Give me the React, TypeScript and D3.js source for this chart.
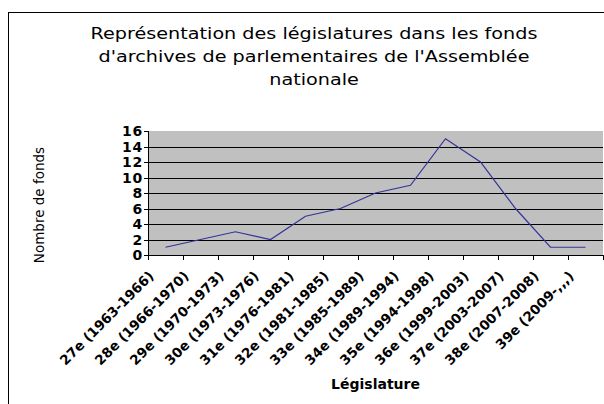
import React from 'react';
import * as d3 from 'd3';

const legislatures = [
  '27e (1963-1966)', '28e (1966-1970)', '29e (1970-1973)', '30e (1973-1976)',
  '31e (1976-1981)', '32e (1981-1985)', '33e (1985-1989)', '34e (1989-1994)',
  '35e (1994-1998)', '36e (1999-2003)', '37e (2003-2007)', '38e (2007-2008)',
  '39e (2009-,,,)',
];
const fonds = [1, 2, 3, 2, 5, 6, 8, 9, 15, 12, 6, 1, 1];
const yTicks = [0, 2, 4, 6, 8, 10, 12, 14, 16];
const titleLines = [
  'Représentation des législatures dans les fonds',
  "d'archives de parlementaires de l'Assemblée",
  'nationale',
];

const W = 604;
const H = 404;
const plot = { left: 148, right: 603, top: 131, bottom: 255 };

export default function App() {
  const x = d3.scaleBand<string>().domain(legislatures).range([plot.left, plot.right]);
  const y = d3.scaleLinear().domain([0, 16]).range([plot.bottom, plot.top]);
  const line = d3.line<number>()
    .x((_, i) => (x(legislatures[i]) as number) + x.bandwidth() / 2)
    .y((d) => y(d));
  const font = 'DejaVu Sans, Verdana, sans-serif';

  return (
    <svg width={W} height={H} style={{ position: 'absolute', left: 0, top: 0 }} fontFamily={font}>
      <rect x={0} y={0} width={W} height={H} fill="#fff" />
      {/* outer chart frame */}
      <rect x={8.5} y={12.5} width={W + 10} height={H + 10} fill="none" stroke="#000" />

      {/* title, stretched a bit wider like the original rendering */}
      <g transform="translate(314,0) scale(1.2,1)">
        {titleLines.map((t, i) => (
          <text key={i} x={0} y={39 + i * 23} textAnchor="middle" fontSize={16}>{t}</text>
        ))}
      </g>

      {/* plot area */}
      <rect x={plot.left} y={plot.top} width={plot.right - plot.left} height={plot.bottom - plot.top} fill="#c0c0c0" />
      {yTicks.filter((t) => t > 0 && t < 16).map((t) => (
        <line key={t} x1={plot.left} x2={plot.right} y1={Math.round(y(t)) + 0.5} y2={Math.round(y(t)) + 0.5} stroke="#000" />
      ))}

      {/* y axis */}
      <line x1={plot.left + 0.5} x2={plot.left + 0.5} y1={plot.top} y2={plot.bottom} stroke="#000" />
      {yTicks.map((t) => (
        <g key={t}>
          <line x1={plot.left - 4} x2={plot.left} y1={Math.round(y(t)) + 0.5} y2={Math.round(y(t)) + 0.5} stroke="#000" />
          <text x={plot.left - 5} y={y(t)} dy="0.36em" textAnchor="end" fontSize={14} fontWeight="bold" letterSpacing={0.8}>{t}</text>
        </g>
      ))}

      {/* x axis */}
      <line x1={plot.left} x2={plot.right} y1={plot.bottom + 0.5} y2={plot.bottom + 0.5} stroke="#000" />
      {legislatures.map((c) => (x(c) as number)).concat([plot.right]).map((px, i) => (
        <line key={i} x1={Math.round(px) + 0.5} x2={Math.round(px) + 0.5} y1={plot.bottom} y2={plot.bottom + 5} stroke="#000" />
      ))}
      {legislatures.map((c) => {
        const cx = (x(c) as number) + x.bandwidth() / 2;
        return (
          <text key={c} transform={`translate(${cx - 11},${plot.bottom + 22}) rotate(-45)`}
            textAnchor="end" fontSize={13.5} fontWeight="bold">{c}</text>
        );
      })}

      <path d={line(fonds) as string} fill="none" stroke="#333399" strokeWidth={1.2} />

      <text x={(plot.left + plot.right) / 2} y={389} textAnchor="middle" fontSize={14} fontWeight="bold">Législature</text>
      <text transform={`translate(44,205) rotate(-90)`} textAnchor="middle" fontSize={13.5}>Nombre de fonds</text>
    </svg>
  );
}
